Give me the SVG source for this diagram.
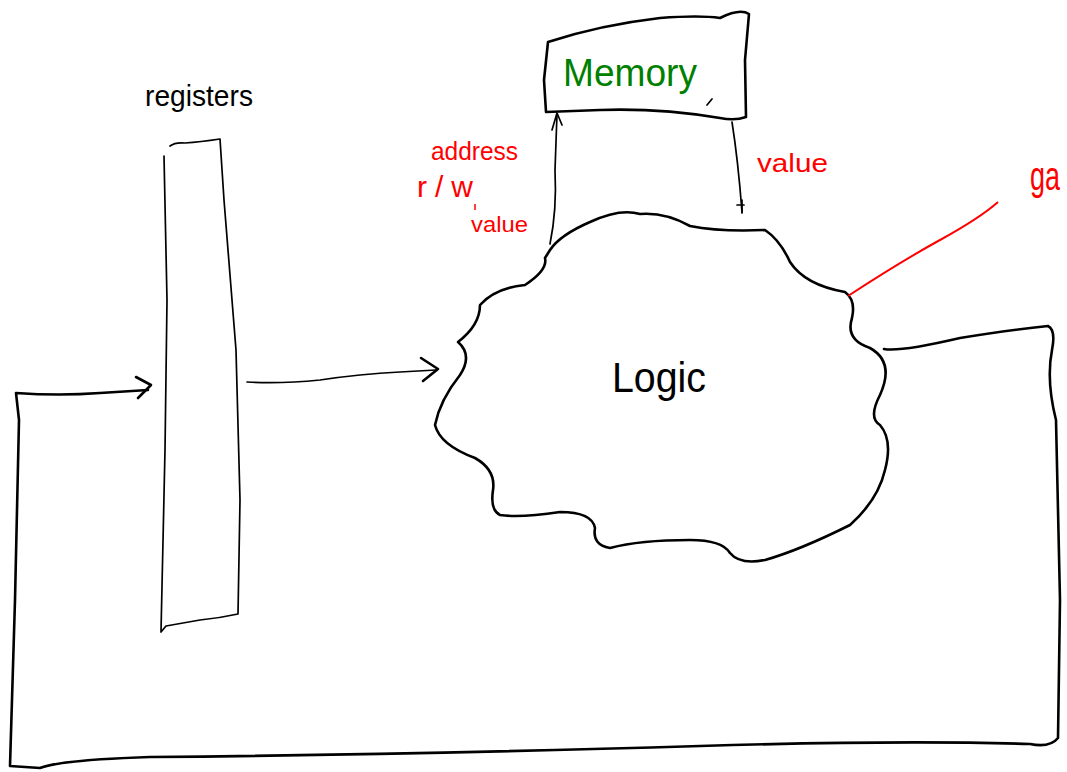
<svg xmlns="http://www.w3.org/2000/svg" width="1067" height="772" viewBox="0 0 1067 772">
<style>
.ink{fill:none;stroke:#000;stroke-width:2.6;stroke-linecap:round;stroke-linejoin:round}
.thin{fill:none;stroke:#000;stroke-width:1.7;stroke-linecap:round;stroke-linejoin:round}
.red{fill:#f00;font-family:"Liberation Sans",sans-serif}
.blk{fill:#000;font-family:"Liberation Sans",sans-serif}
</style>
<rect width="1067" height="772" fill="#fff"/>
<g id="registers">
<path class="thin" d="M170,146 Q175,142 185,143 Q200,142 220,139 L224,200 L236,350 L240,500 L238,614 Q220,618 200,620 L166,626 L161,632 L165,450 L167,300 L164,156"/>
<text class="blk" x="145" y="106" font-size="30" textLength="108" lengthAdjust="spacingAndGlyphs">registers</text>
</g>
<g id="memory">
<path class="ink" d="M548,42 Q600,25 660,18 Q700,15 720,18 Q740,8 749,14 L745,60 L746,117 Q735,121 720,118 Q660,108 600,110 L546,112 L544,80 Z"/>
<text x="563" y="86" font-size="38" fill="#008000" font-family="Liberation Sans,sans-serif" textLength="134" lengthAdjust="spacingAndGlyphs">Memory</text>
<path class="thin" d="M707,105 L712,99"/>
</g>
<g id="logic">
<path class="ink" d="M550,250 Q560,235 590,222 Q620,208 640,214 Q665,212 690,226 Q720,232 765,230 Q780,240 790,262 Q805,285 845,292 Q856,300 852,318 Q845,340 870,348 Q895,362 880,395 Q868,418 880,425 Q893,440 885,470 Q878,500 850,525 Q800,550 765,560 Q740,565 730,553 Q722,540 690,540 Q640,540 610,548 Q592,545 595,528 Q592,512 560,512 Q520,518 500,515 Q490,510 493,490 Q496,470 475,458 Q440,445 435,425 Q440,400 460,375 Q473,355 458,342 Q480,325 480,305 Q495,288 525,285 Q548,270 545,258 Z"/>
<text class="blk" x="612" y="392" font-size="42" textLength="94" lengthAdjust="spacingAndGlyphs">Logic</text>
</g>
<g id="labels">
<text class="red" x="431" y="160" font-size="26" textLength="87" lengthAdjust="spacingAndGlyphs">address</text>
<text class="red" x="417" y="197" font-size="30" letter-spacing="8">r/w</text>
<path d="M475,204 L475,210" stroke="#f00" stroke-width="1.5"/>
<text class="red" x="471" y="232" font-size="22" textLength="57" lengthAdjust="spacingAndGlyphs">value</text>
<text class="red" x="757" y="172" font-size="26" textLength="71" lengthAdjust="spacingAndGlyphs">value</text>
<text class="red" x="1030" y="190" font-size="40" textLength="30" lengthAdjust="spacingAndGlyphs">ga</text>
</g>
<g id="connectors">
<path class="thin" d="M247,382 Q280,384 320,380 Q360,374 400,372 L436,370"/>
<path class="ink" d="M421,358 L438,369 L423,381"/>
<path class="ink" d="M884,349 Q900,352 960,338 Q1010,330 1048,326 Q1056,330 1052,350 Q1046,380 1056,420 L1060,600 L1058,738 Q1050,748 1030,744 Q900,740 700,746 Q400,755 150,757 Q60,760 40,768 L10,766 L15,600 L19,420 L16,393 Q60,396 100,393 L148,390"/>
<path class="ink" d="M136,377 L151,385 L138,398"/>
<path class="thin" d="M550,244 Q557,210 555,170 L557,114"/>
<path class="thin" d="M552,130 L557,113 L562,125"/>
<path class="thin" d="M732,122 Q738,160 742,212"/>
<path class="thin" d="M737,205 L744,205 M742,200 L742,213"/>
<path d="M848,296 Q900,262 940,240 Q980,218 998,202" fill="none" stroke="#f00" stroke-width="2"/>
</g>
</svg>
